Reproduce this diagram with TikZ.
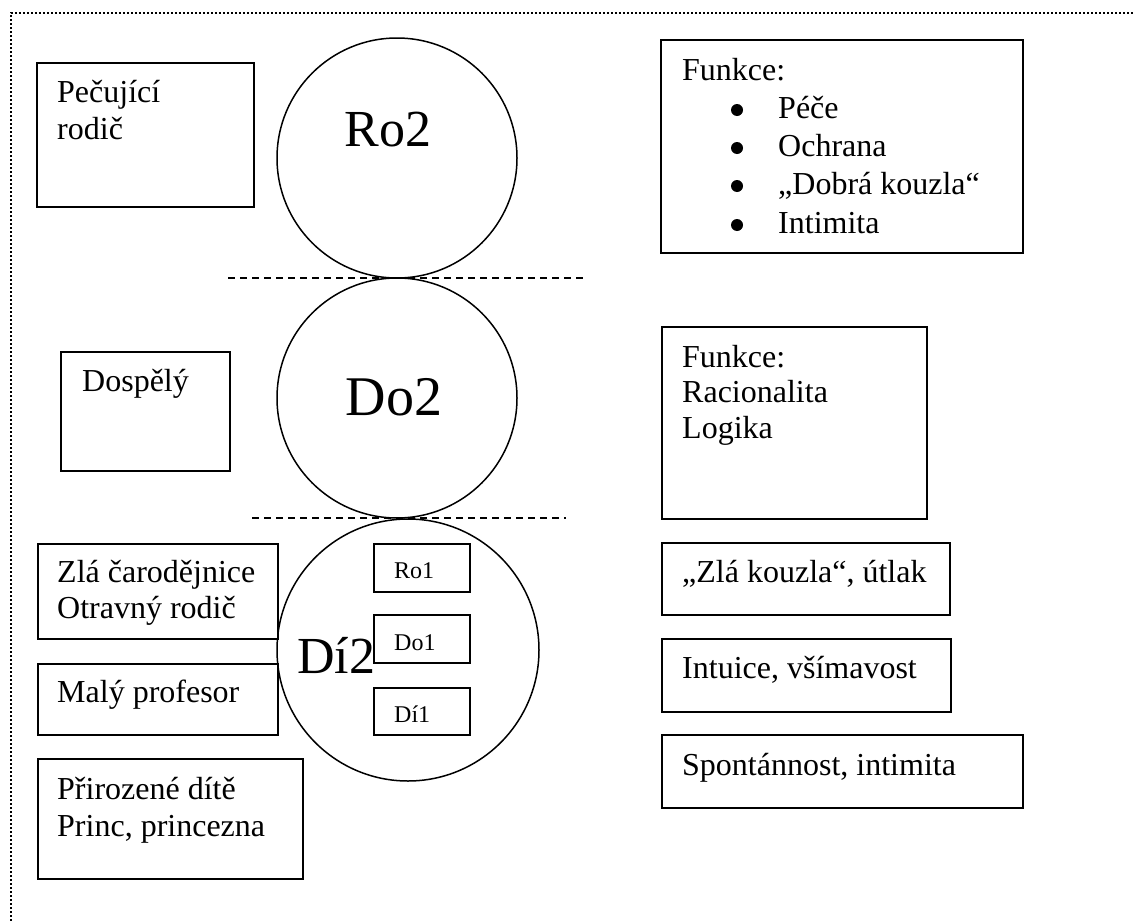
\documentclass[tikz,border=0pt]{standalone}
\usepackage{fontspec}
\setmainfont{Liberation Serif}
\begin{document}
\begin{tikzpicture}[x=1pt,y=-1pt,
  box/.style={draw, line width=1.6pt, inner sep=0pt, anchor=north west, fill=white},
  txt/.style={anchor=base west, inner sep=0pt, font=\fontsize{32}{37}\selectfont},
  bul/.style={circle, fill=black, inner sep=0pt, minimum size=12pt},
  small/.style={anchor=base west, inner sep=0pt, font=\fontsize{24}{28}\selectfont},
  big/.style={anchor=base, inner sep=0pt},
  ring/.style={draw, circle, line width=1.5pt, inner sep=0pt},
  sep/.style={line width=1.4pt, dash pattern=on 7pt off 5pt},
  frame/.style={line width=2.4pt, dash pattern=on 2.2pt off 1.8pt}]
\useasboundingbox (0,0) rectangle (1133,921);
\fill[white] (0,0) rectangle (1133,921);

% outer dotted frame (top and left edges visible)
\coordinate (fbl) at (11,921);
\coordinate (ftl) at (11,13);
\coordinate (ftr) at (1133,13);
\draw[frame] (fbl) -- (ftl) -- (ftr);

% circles
\node[ring, minimum size=240pt] (ro2) at (397,158) {};
\node[ring, minimum size=240pt] (do2) at (397,398) {};
\node[ring, minimum size=262pt] (di2) at (408,650) {};

% dashed separators
\coordinate (s1a) at (228,278);
\coordinate (s1b) at (587,278);
\coordinate (s2a) at (252,518);
\coordinate (s2b) at (566,518);
\draw[sep] (s1a) -- (s1b);
\draw[sep] (s2a) -- (s2b);

% circle labels
\node[big, font=\fontsize{52}{60}\selectfont] (tro2) at (388,146) {Ro2};
\node[big, font=\fontsize{56}{64}\selectfont] (tdo2) at (394,415) {Do2};

% left boxes
\node[box, minimum width=217pt, minimum height=144pt] (pec) at (36,62) {};
\node[txt] (pec1) at (57,102) {Pečující};
\node[txt] (pec2) at (57,139) {rodič};

\node[box, minimum width=169pt, minimum height=119pt] (dosp) at (60,351) {};
\node[txt] (dosp1) at (82,391) {Dospělý};

\node[box, minimum width=240pt, minimum height=95pt] (zla) at (37,543) {};
\node[txt] (zla1) at (57,582) {Zlá čarodějnice};
\node[txt] (zla2) at (57,618) {Otravný rodič};

\node[box, minimum width=240pt, minimum height=71pt] (maly) at (37,663) {};
\node[txt] (maly1) at (57,702) {Malý profesor};

\node[box, minimum width=265pt, minimum height=120pt] (prir) at (37,758) {};
\node[txt] (prir1) at (57,799) {Přirozené dítě};
\node[txt] (prir2) at (57,836) {Princ, princezna};

% inner boxes of Dí2
\node[box, minimum width=96pt, minimum height=48pt] (ro1) at (373,543) {};
\node[small] (tro1) at (394,578) {Ro1};
\node[box, minimum width=96pt, minimum height=48pt] (do1) at (373,614) {};
\node[small] (tdo1) at (394,650) {Do1};
\node[box, minimum width=96pt, minimum height=47pt] (di1) at (373,687) {};
\node[small] (tdi1) at (394,722) {Dí1};
\node[anchor=base west, inner sep=0pt, font=\fontsize{52}{60}\selectfont] (tdi2) at (297,673) {Dí2};

% right boxes
\node[box, minimum width=362pt, minimum height=213pt] (fun1) at (660,39) {};
\node[txt] (f1h) at (682,80) {Funkce:};
\node[bul] (b1) at (737,110) {};
\node[txt] (f1a) at (778,118) {Péče};
\node[bul] (b2) at (737,148) {};
\node[txt] (f1b) at (778,156) {Ochrana};
\node[bul] (b3) at (737,186) {};
\node[txt] (f1c) at (778,194) {„Dobrá kouzla“};
\node[bul] (b4) at (737,225) {};
\node[txt] (f1d) at (778,233) {Intimita};

\node[box, minimum width=265pt, minimum height=192pt] (fun2) at (661,326) {};
\node[txt] (f2h) at (682,367) {Funkce:};
\node[txt] (f2a) at (682,402) {Racionalita};
\node[txt] (f2b) at (682,438) {Logika};

\node[box, minimum width=288pt, minimum height=72pt] (zk) at (661,542) {};
\node[txt] (zk1) at (682,582) {„Zlá kouzla“, útlak};

\node[box, minimum width=289pt, minimum height=73pt] (intu) at (661,638) {};
\node[txt] (intu1) at (682,678) {Intuice, všímavost};

\node[box, minimum width=361pt, minimum height=73pt] (spon) at (661,734) {};
\node[txt] (spon1) at (682,775) {Spontánnost, intimita};
\end{tikzpicture}
\end{document}
